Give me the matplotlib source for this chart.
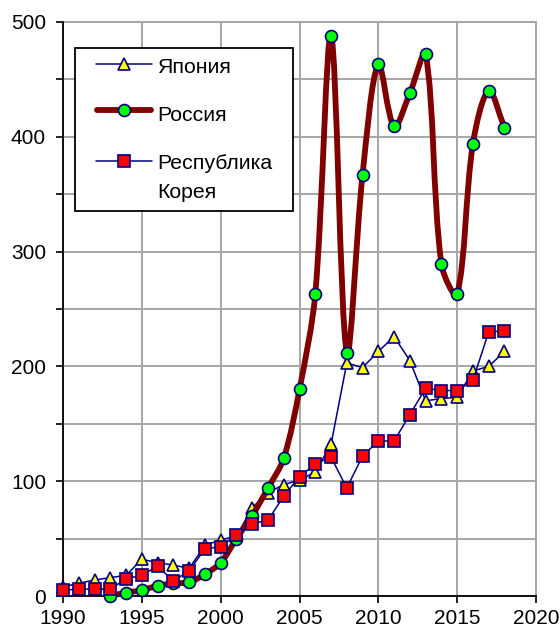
import matplotlib
matplotlib.use("Agg")
import matplotlib.pyplot as plt
from matplotlib.path import Path
from matplotlib.patches import PathPatch, Rectangle
from matplotlib.lines import Line2D
import numpy as np

plt.rcParams['font.family'] = ['Liberation Sans', 'DejaVu Sans']

years_all = list(range(1990, 2019))
japan = [8, 11, 14, 16, 18, 32, 29, 27, 24, 44, 49, 52, 77, 90, 97,
         101, 108, 132, 203, 199, 213, 226, 205, 170, 172, 173, 196, 200, 213]
korea = [5, 6, 6, 6, 15, 18, 26, 13, 22, 41, 43, 53, 63, 66, 87,
         104, 115, 121, 94, 122, 135, 135, 158, 181, 179, 179, 188, 230, 231]
years_ru = list(range(1993, 2019))
russia = [0, 3, 5, 9, 11, 12, 19, 29, 50, 70, 94, 120,
          180, 263, 488, 212, 367, 463, 409, 438, 472, 289, 263, 394, 440, 408]

labels = ["Япония", "Россия", "Республика", "Корея"]
xticks = [1990, 1995, 2000, 2005, 2010, 2015, 2020]
yticks = [0, 100, 200, 300, 400, 500]
yminor = [50, 150, 250, 350, 450]

NAVY = "#000080"
DARKRED = "#800000"
GRID = "#A6A6A6"
W, H = 560, 632

fig = plt.figure(figsize=(W/100, H/100), dpi=100)
ax = fig.add_axes([63/W, 36/H, 473/W, 574/H])
ax.set_xlim(1990, 2020)
ax.set_ylim(0, 500)

ax.set_xticks(xticks)
ax.set_yticks(yticks)
ax.set_yticks(yminor, minor=True)
ax.grid(True, which='both', color=GRID, lw=1.4, zorder=0)
ax.set_axisbelow(True)
ax.tick_params(axis='both', which='both', direction='out', length=5, width=1.2,
               color='black', labelsize=15)
ax.tick_params(axis='y', which='both', pad=7.2)
ax.tick_params(axis='x', which='both', pad=4.5)
ax.tick_params(axis='x', which='minor', length=0)
for s in ['top', 'right']:
    ax.spines[s].set_color(GRID)
    ax.spines[s].set_linewidth(1.4)
for s in ['left', 'bottom']:
    ax.spines[s].set_color('black')
    ax.spines[s].set_linewidth(1.3)
    ax.spines[s].set_zorder(3)

MS = 8.3
# Japan
ax.plot(years_all, japan, color=NAVY, lw=1.1, marker='^', ms=MS,
        mfc='#FFFF00', mec=NAVY, mew=1.2, zorder=4, clip_on=False)

# Russia: Excel-like smoothed bezier, control points computed in display space
pts = ax.transData.transform(np.column_stack([years_ru, russia]).astype(float))
n = len(pts)
verts_disp = [pts[0]]
codes = [Path.MOVETO]
for i in range(n - 1):
    p0 = pts[max(i-1, 0)]
    p1 = pts[i]
    p2 = pts[i+1]
    p3 = pts[min(i+2, n-1)]
    d01 = np.hypot(*(p1 - p0))
    d12 = np.hypot(*(p2 - p1))
    d23 = np.hypot(*(p3 - p2))
    f1 = d12 / (d01 + d12) if (d01 + d12) > 0 else 0.5
    f2 = d12 / (d12 + d23) if (d12 + d23) > 0 else 0.5
    c1 = p1 + (p2 - p0) * f1 / 3.0
    c2 = p2 - (p3 - p1) * f2 / 3.0
    verts_disp += [c1, c2, p2]
    codes += [Path.CURVE4] * 3
verts = ax.transData.inverted().transform(np.array(verts_disp))
patch = PathPatch(Path(verts, codes), facecolor='none', edgecolor=DARKRED,
                  lw=4.2, zorder=5, capstyle='round', joinstyle='round')
ax.add_patch(patch)
ax.plot(years_ru, russia, ls='none', marker='o', ms=MS + 0.3, mfc='#00FF00',
        mec=NAVY, mew=1.2, zorder=6, clip_on=False)

# Korea
ax.plot(years_all, korea, color=NAVY, lw=1.1, marker='s', ms=MS - 0.3,
        mfc='#FF0000', mec=NAVY, mew=1.2, zorder=7, clip_on=False)

# legend (drawn manually in figure pixel coordinates)
def fx(x):
    return x / W

def fy(y):
    return 1 - y / H

box = Rectangle((fx(75), fy(210.5)), fx(293) - fx(75), fy(48) - fy(210.5),
                transform=fig.transFigure, facecolor='white', edgecolor='black',
                lw=1.3, zorder=20)
fig.add_artist(box)
handles = [
    dict(y=64.3, color=NAVY, lw=1.1, marker='^', mfc='#FFFF00', ms=MS, x0=96, x1=152),
    dict(y=110.0, color=DARKRED, lw=4.2, marker='o', mfc='#00FF00', ms=MS + 0.3, x0=97, x1=151),
    dict(y=160.7, color=NAVY, lw=1.1, marker='s', mfc='#FF0000', ms=MS - 0.3, x0=96, x1=152),
]
for h in handles:
    fig.add_artist(Line2D([fx(h['x0']), fx(h['x1'])], [fy(h['y'])] * 2,
                          transform=fig.transFigure, color=h['color'], lw=h['lw'],
                          solid_capstyle='round', zorder=21))
    fig.add_artist(Line2D([fx(123.5)], [fy(h['y'])], transform=fig.transFigure,
                          ls='none', marker=h['marker'], ms=h['ms'], mfc=h['mfc'],
                          mec=NAVY, mew=1.2, zorder=22))
baselines = [72.7, 121.0, 169.0, 197.7]
for lab, b in zip(labels, baselines):
    fig.text(fx(157.5), fy(b), lab, fontsize=15.3, va='baseline', ha='left',
             color='black', zorder=23)

fig.savefig("out.png", dpi=100)
